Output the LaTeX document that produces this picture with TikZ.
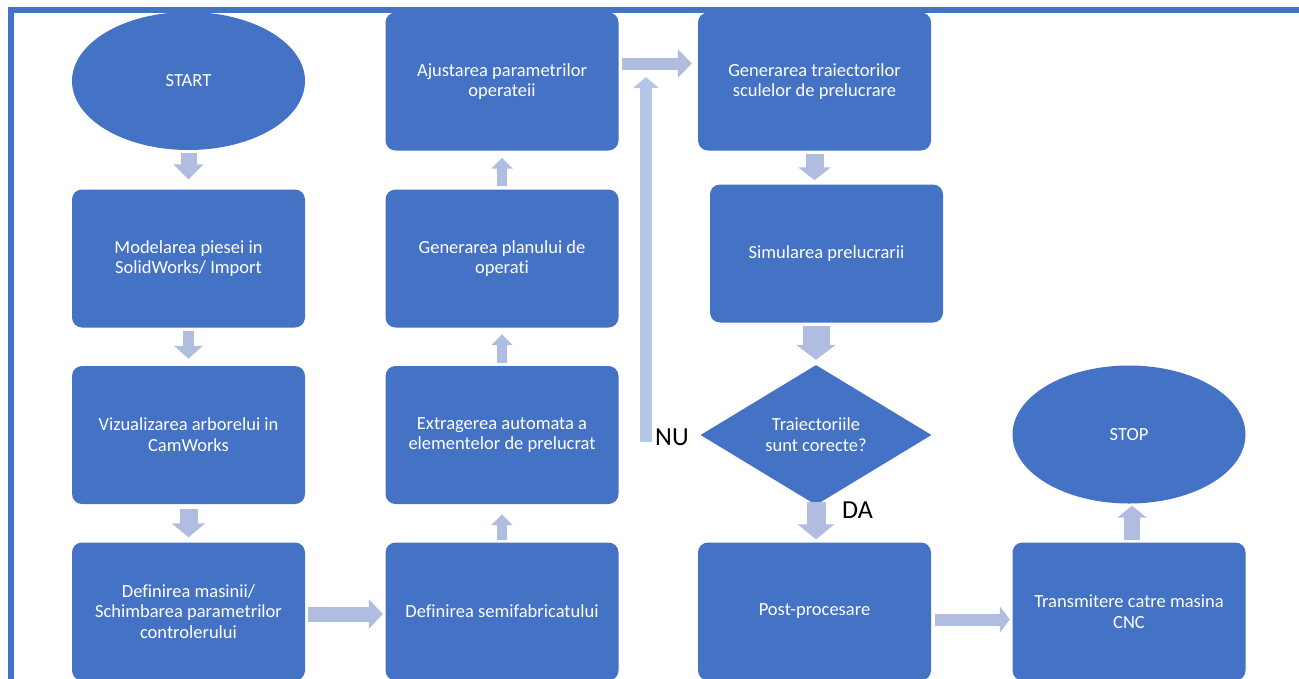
\documentclass[tikz,border=0pt]{standalone}
\usepackage{fontspec}
\setmainfont{Carlito}[Ligatures={NoCommon}]
\usetikzlibrary{shapes.geometric,arrows.meta,calc}
\definecolor{boxblue}{HTML}{4472C4}
\definecolor{arrowc}{HTML}{B0BDE0}
\definecolor{arrownu}{HTML}{B4C7E7}
\begin{document}
\begin{tikzpicture}[x=1pt,y=-1pt,
 txt/.style={text=white, align=center, inner sep=0pt, font=\fontsize{18.5}{20.8}\selectfont},
 procbox/.style={txt, rectangle, rounded corners=10pt, fill=boxblue, minimum width=233pt, minimum height=138pt},
 termbox/.style={txt, ellipse, fill=boxblue, minimum width=233pt, minimum height=138pt},
 decbox/.style={txt, diamond, fill=boxblue, minimum width=231pt, minimum height=140pt, shape aspect=1.65},
 barrow/.style n args={3}{draw=arrowc, line width=#1, -{Triangle[length=#2,width=#3]}},
 lbl/.style={font=\fontsize{26}{30}\selectfont, text=black, inner sep=0pt}]
\useasboundingbox (0,0) rectangle (1299,678);
\begin{scope}
\clip (0,0) rectangle (1299,678);
\draw[boxblue, line width=5.4pt] (10.8,10) rectangle (1330,720);
% column 1
\node[termbox] (start) at (188.5,81) {START};
\node[procbox] (model) at (188.5,258.5) {Modelarea piesei in\\SolidWorks/ Import};
\node[procbox] (viz) at (188.5,435) {Vizualizarea arborelui in\\CamWorks};
\node[procbox] (defm) at (188.5,611.5) {Definirea masinii/\\Schimbarea parametrilor\\controlerului};
% column 2
\node[procbox] (semi) at (502,611.5) {Definirea semifabricatului};
\node[procbox] (extr) at (502,435) {Extragerea automata a\\elementelor de prelucrat};
\node[procbox] (plan) at (502,258.5) {Generarea planului de\\operati};
\node[procbox] (ajust) at (502,81.5) {Ajustarea parametrilor\\operateii};
% column 3
\node[procbox] (traj) at (814.5,81.5) {Generarea traiectorilor\\sculelor de prelucrare};
\node[procbox] (sim) at (826.5,253.5) {Simularea prelucrarii};
\node[decbox] (dec) at (816,435) {Traiectoriile\\sunt corecte?};
\node[procbox] (post) at (814.5,611.5) {Post-procesare};
% column 4
\node[procbox] (trans) at (1129,611.5) {Transmitere catre masina\\CNC};
\node[termbox] (stop) at (1129,434.5) {STOP};
% labels
\node[lbl, anchor=west] (nu) at (655,437) {NU};
\node[lbl, anchor=west] (da) at (842,510) {DA};
% connectors
\draw[barrow={16pt}{15pt}{29pt}] ([yshift=-3pt]start.south) -- ([yshift=10pt]model.north);
\draw[barrow={11pt}{13pt}{28pt}] ([yshift=-3.5pt]model.south) -- ([yshift=7pt]viz.north);
\draw[barrow={18pt}{14pt}{33pt}] ([yshift=-5pt]viz.south) -- ([yshift=5pt]defm.north);
\draw[barrow={15pt}{14pt}{29pt}] ([xshift=3pt,yshift=-2.5pt]defm.east) -- ([xshift=-2.5pt,yshift=-2.5pt]semi.west);
\draw[barrow={10pt}{11pt}{21pt}] ([yshift=2pt]semi.north) -- ([yshift=-10pt]extr.south);
\draw[barrow={10pt}{11pt}{21pt}] ([yshift=3pt]extr.north) -- ([yshift=-6.5pt]plan.south);
\draw[barrow={10pt}{11pt}{21pt}] ([yshift=3.5pt]plan.north) -- ([yshift=-7pt]ajust.south);
\draw[barrow={12pt}{14pt}{28pt}] ([xshift=3.5pt,yshift=18pt]ajust.east) -- ([xshift=-6pt,yshift=18pt]traj.west);
\draw[barrow={18pt}{13pt}{32pt}] ([yshift=-3pt]traj.south) -- ($(traj.south |- sim.north)+(0,-4)$);
\draw[barrow={27pt}{15pt}{39pt}] ($(sim.south -| dec.north)+(0,3)$) -- ([yshift=5pt]dec.north);
\draw[barrow={19pt}{15pt}{36pt}] ([yshift=3pt]dec.south) -- ($(dec.south |- post.north)+(0,-3)$);
\draw[barrow={12pt}{10pt}{26pt}] ([xshift=4pt,yshift=-8pt]post.east) -- ([xshift=-2.5pt,yshift=-8pt]trans.west);
\draw[barrow={16pt}{12pt}{29pt}] ([xshift=3pt,yshift=2pt]trans.north) -- ([xshift=3pt,yshift=-2pt]stop.south);
\coordinate (nubot) at (646,442);
\coordinate (nutop) at (646,77);
\draw[barrow={12pt}{11pt}{25pt}, draw=arrownu] (nubot) -- (nutop);
\end{scope}
\end{tikzpicture}
\end{document}
